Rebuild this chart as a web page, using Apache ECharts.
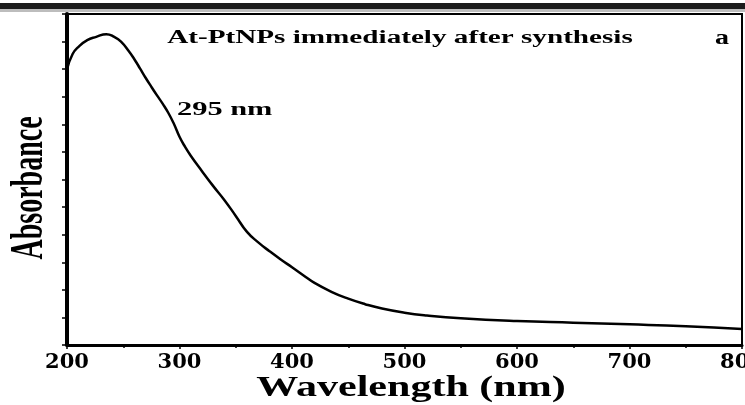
<!DOCTYPE html>
<html>
<head>
<meta charset="utf-8">
<script src="https://cdn.jsdelivr.net/npm/echarts@6/dist/echarts.min.js"></script>
<style>
html,body{margin:0;padding:0;background:#fff;}
#c{width:745px;height:405px;}
</style>
</head>
<body>
<div id="c"></div>
<script>
// Wavelength (nm)
const wavelengths = [200,205,210,218,226,235,242,248,255,260,265,270,275,280,285,290,295,300,305,310,320,330,340,350,360,370,380,390,400,410,420,435,450,465,480,500,520,550,600,650,700,750,800];
// Absorbance (arbitrary units)
const absorbance = [10.0,10.55,10.8,11.05,11.17,11.27,11.17,11.0,10.65,10.35,10.02,9.68,9.36,9.05,8.75,8.42,8.02,7.55,7.18,6.86,6.3,5.76,5.25,4.68,4.1,3.72,3.4,3.1,2.82,2.53,2.25,1.93,1.68,1.48,1.32,1.17,1.07,0.97,0.87,0.81,0.75,0.68,0.58];
const xTicks = [200,300,400,500,600,700,800];
const titleText = 'At-PtNPs immediately after synthesis';
const peakText = '295 nm';
const panelText = 'a';
const xName = 'Wavelength (nm)';
const yName = 'Absorbance';

const seriesData = wavelengths.map((w,i)=>[w, absorbance[i]]);

const chart = echarts.init(document.getElementById('c'), null, {renderer:'canvas'});
const serif = '"Liberation Serif", "Times New Roman", serif';
function txt(o){
  return Object.assign({type:'text',z:20}, o);
}
chart.setOption({
  backgroundColor:'#fff',
  animation:false,
  grid:{left:67,right:3,top:14,bottom:60,show:true,borderColor:'#000',borderWidth:2,
        backgroundColor:'transparent',containLabel:false,outerBoundsMode:'none'},
  xAxis:{
    type:'value',min:200,max:800,interval:100,
    axisLine:{show:true,lineStyle:{color:'#000',width:3}},
    axisTick:{show:true,length:4,lineStyle:{color:'#000',width:1.5}},
    minorTick:{show:true,splitNumber:2,length:3,lineStyle:{color:'#000',width:1.5}},
    splitLine:{show:false},
    axisLabel:{
      show:true,margin:7,color:'#000',fontFamily:'"DejaVu Serif", serif',fontWeight:'bold',fontSize:21,
      hideOverlap:false,showMaxLabel:true,showMinLabel:true,
      formatter:v=> xTicks.indexOf(v)>=0 ? String(v) : ''
    }
  },
  yAxis:{
    type:'value',min:0,max:12,interval:1,
    axisLine:{show:true,lineStyle:{color:'#000',width:4}},
    axisTick:{show:true,length:5,lineStyle:{color:'#000',width:1.5}},
    splitLine:{show:false},
    axisLabel:{show:false}
  },
  series:[{
    type:'line',data:seriesData,smooth:0.5,showSymbol:false,symbol:'none',
    lineStyle:{color:'#000',width:2.5}
  }],
  graphic:[
    {type:'rect',shape:{x:0,y:3,width:745,height:6},style:{fill:'#1c1c1c'},z:10},
    {type:'rect',shape:{x:0,y:9,width:745,height:3},style:{fill:'#bdbdbd'},z:10},
    txt({x:400,y:38,scaleX:1.62,
      style:{text:titleText,fontFamily:serif,fontWeight:'bold',fontSize:18,fill:'#000',textAlign:'center',textVerticalAlign:'middle',align:'center',verticalAlign:'middle'}}),
    txt({x:722,y:39,scaleX:1.4,
      style:{text:panelText,fontFamily:serif,fontWeight:'bold',fontSize:20,fill:'#000',textAlign:'center',textVerticalAlign:'middle',align:'center',verticalAlign:'middle'}}),
    txt({x:177,y:110,scaleX:1.6,
      style:{text:peakText,fontFamily:serif,fontWeight:'bold',fontSize:19,fill:'#000',textAlign:'left',textVerticalAlign:'middle',align:'left',verticalAlign:'middle'}}),
    txt({x:411,y:389,scaleX:1.45,
      style:{text:xName,fontFamily:serif,fontWeight:'bold',fontSize:29,fill:'#000',textAlign:'center',textVerticalAlign:'middle',align:'center',verticalAlign:'middle'}}),
    txt({x:30,y:188,rotation:Math.PI/2,scaleY:1.65,
      style:{text:yName,fontFamily:serif,fontWeight:'bold',fontSize:28,fill:'#000',textAlign:'center',textVerticalAlign:'middle',align:'center',verticalAlign:'middle'}})
  ]
});
</script>
</body>
</html>
